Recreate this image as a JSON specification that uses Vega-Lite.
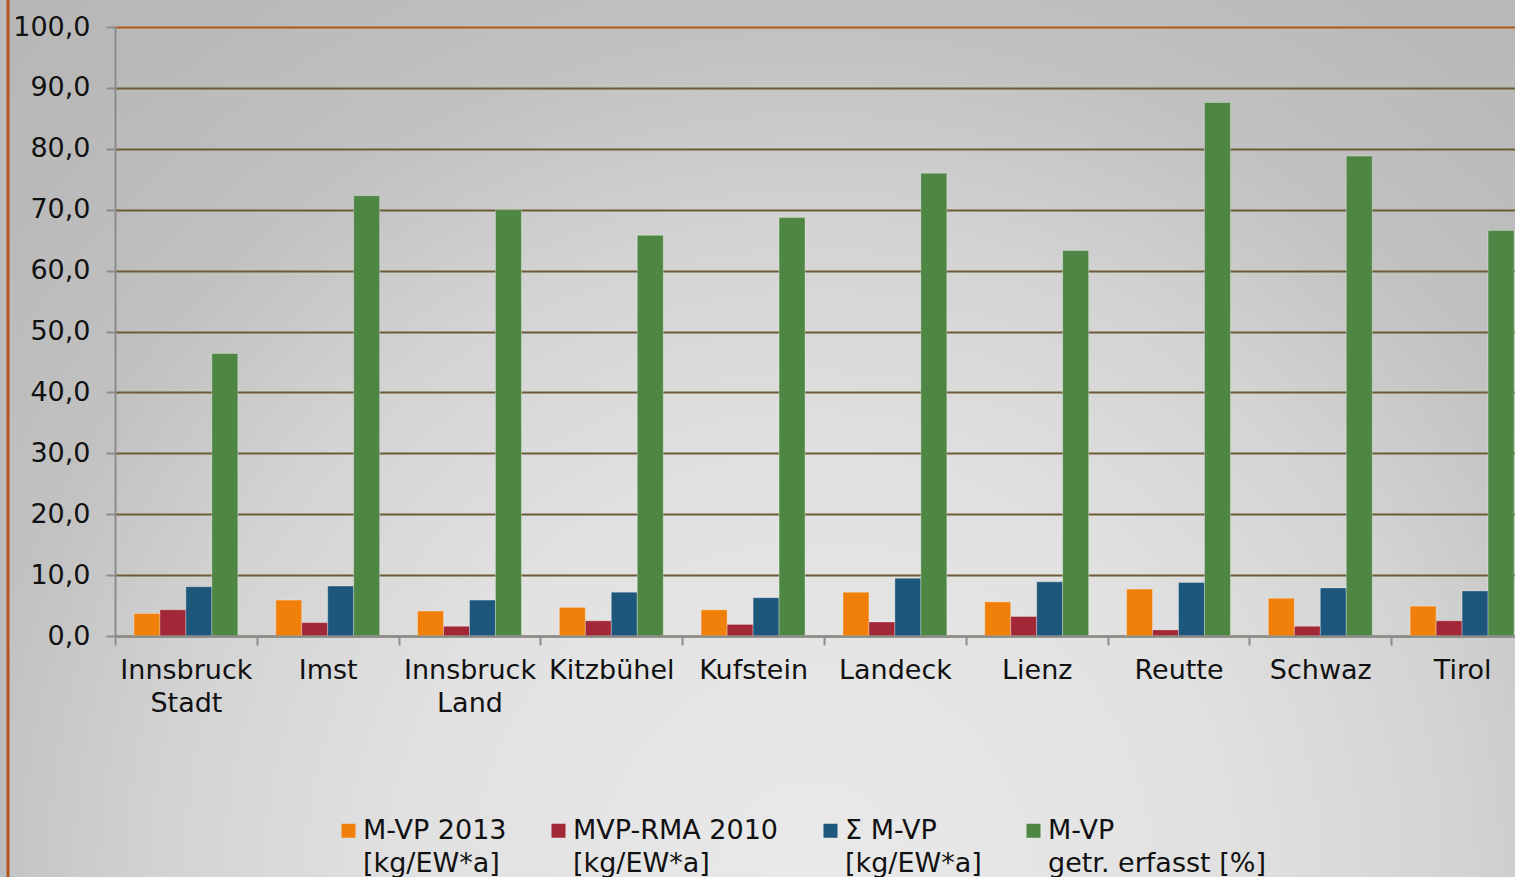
{
  "$schema": "https://vega.github.io/schema/vega-lite/v6.json",
  "width": 1520,
  "height": 883,
  "autosize": {"type": "none"},
  "padding": {"left": 8, "top": -3, "right": -13, "bottom": -3},
  "background": "#bcbcbc",
  "config": {
    "font": "DejaVu Sans",
    "view": {
      "fill": {
        "gradient": "radial",
        "x1": 0.53, "y1": 0.79, "r1": 0,
        "x2": 0.53, "y2": 0.79, "r2": 0.9,
        "stops": [
          {"offset": 0, "color": "#e9e9e9"},
          {"offset": 0.3, "color": "#e1e1e1"},
          {"offset": 0.475, "color": "#d3d3d3"},
          {"offset": 0.57, "color": "#c7c7c7"},
          {"offset": 0.62, "color": "#c1c1c1"},
          {"offset": 0.75, "color": "#bababa"},
          {"offset": 1, "color": "#b3b3b3"}
        ]
      },
      "stroke": "#ad5718",
      "strokeWidth": 3
    },
    "style": {"guide-label": {"lineHeight": 33}}
  },
  "data": {
    "values": [
      {"bezirk": "Innsbruck Stadt", "serie": "M-VP 2013|[kg/EW*a]", "wert": 3.7},
      {"bezirk": "Innsbruck Stadt", "serie": "MVP-RMA 2010|[kg/EW*a]", "wert": 4.3},
      {"bezirk": "Innsbruck Stadt", "serie": "Σ M-VP|[kg/EW*a]", "wert": 8.1},
      {"bezirk": "Innsbruck Stadt", "serie": "M-VP|getr. erfasst [%]", "wert": 46.4},
      {"bezirk": "Imst", "serie": "M-VP 2013|[kg/EW*a]", "wert": 5.9},
      {"bezirk": "Imst", "serie": "MVP-RMA 2010|[kg/EW*a]", "wert": 2.2},
      {"bezirk": "Imst", "serie": "Σ M-VP|[kg/EW*a]", "wert": 8.2},
      {"bezirk": "Imst", "serie": "M-VP|getr. erfasst [%]", "wert": 72.3},
      {"bezirk": "Innsbruck Land", "serie": "M-VP 2013|[kg/EW*a]", "wert": 4.1},
      {"bezirk": "Innsbruck Land", "serie": "MVP-RMA 2010|[kg/EW*a]", "wert": 1.6},
      {"bezirk": "Innsbruck Land", "serie": "Σ M-VP|[kg/EW*a]", "wert": 5.9},
      {"bezirk": "Innsbruck Land", "serie": "M-VP|getr. erfasst [%]", "wert": 70.0},
      {"bezirk": "Kitzbühel", "serie": "M-VP 2013|[kg/EW*a]", "wert": 4.7},
      {"bezirk": "Kitzbühel", "serie": "MVP-RMA 2010|[kg/EW*a]", "wert": 2.5},
      {"bezirk": "Kitzbühel", "serie": "Σ M-VP|[kg/EW*a]", "wert": 7.2},
      {"bezirk": "Kitzbühel", "serie": "M-VP|getr. erfasst [%]", "wert": 65.8},
      {"bezirk": "Kufstein", "serie": "M-VP 2013|[kg/EW*a]", "wert": 4.3},
      {"bezirk": "Kufstein", "serie": "MVP-RMA 2010|[kg/EW*a]", "wert": 1.9},
      {"bezirk": "Kufstein", "serie": "Σ M-VP|[kg/EW*a]", "wert": 6.3},
      {"bezirk": "Kufstein", "serie": "M-VP|getr. erfasst [%]", "wert": 68.7},
      {"bezirk": "Landeck", "serie": "M-VP 2013|[kg/EW*a]", "wert": 7.2},
      {"bezirk": "Landeck", "serie": "MVP-RMA 2010|[kg/EW*a]", "wert": 2.3},
      {"bezirk": "Landeck", "serie": "Σ M-VP|[kg/EW*a]", "wert": 9.5},
      {"bezirk": "Landeck", "serie": "M-VP|getr. erfasst [%]", "wert": 76.0},
      {"bezirk": "Lienz", "serie": "M-VP 2013|[kg/EW*a]", "wert": 5.6},
      {"bezirk": "Lienz", "serie": "MVP-RMA 2010|[kg/EW*a]", "wert": 3.2},
      {"bezirk": "Lienz", "serie": "Σ M-VP|[kg/EW*a]", "wert": 8.9},
      {"bezirk": "Lienz", "serie": "M-VP|getr. erfasst [%]", "wert": 63.3},
      {"bezirk": "Reutte", "serie": "M-VP 2013|[kg/EW*a]", "wert": 7.7},
      {"bezirk": "Reutte", "serie": "MVP-RMA 2010|[kg/EW*a]", "wert": 1.0},
      {"bezirk": "Reutte", "serie": "Σ M-VP|[kg/EW*a]", "wert": 8.8},
      {"bezirk": "Reutte", "serie": "M-VP|getr. erfasst [%]", "wert": 87.6},
      {"bezirk": "Schwaz", "serie": "M-VP 2013|[kg/EW*a]", "wert": 6.2},
      {"bezirk": "Schwaz", "serie": "MVP-RMA 2010|[kg/EW*a]", "wert": 1.6},
      {"bezirk": "Schwaz", "serie": "Σ M-VP|[kg/EW*a]", "wert": 7.9},
      {"bezirk": "Schwaz", "serie": "M-VP|getr. erfasst [%]", "wert": 78.8},
      {"bezirk": "Tirol", "serie": "M-VP 2013|[kg/EW*a]", "wert": 4.9},
      {"bezirk": "Tirol", "serie": "MVP-RMA 2010|[kg/EW*a]", "wert": 2.5},
      {"bezirk": "Tirol", "serie": "Σ M-VP|[kg/EW*a]", "wert": 7.4},
      {"bezirk": "Tirol", "serie": "M-VP|getr. erfasst [%]", "wert": 66.6}
    ]
  },
  "mark": {"type": "bar", "stroke": "#ffffff", "strokeOpacity": 0.3, "strokeWidth": 1},
  "encoding": {
    "x": {
      "field": "bezirk",
      "type": "nominal",
      "sort": ["Innsbruck Stadt", "Imst", "Innsbruck Land", "Kitzbühel", "Kufstein", "Landeck", "Lienz", "Reutte", "Schwaz", "Tirol"],
      "scale": {"type": "band", "paddingInner": 0, "paddingOuter": 0, "range": [107, 1525]},
      "axis": {
        "orient": "bottom",
        "offset": -244,
        "title": null,
        "grid": false,
        "domainColor": "#8c8c8c",
        "domainWidth": 2,
        "tickColor": "#8c8c8c",
        "tickWidth": 2,
        "tickSize": 9,
        "tickBand": "extent",
        "labelFont": "DejaVu Sans",
        "labelFontSize": 27,
        "labelColor": "#111111",
        "labelPadding": 12,
        "labelLineHeight": 33,
        "labelExpr": "split(datum.label, ' ')",
        "labelAngle": 0,
        "labelOverlap": false,
        "labelLimit": 300,
        "zindex": 1
      }
    },
    "xOffset": {
      "field": "serie",
      "sort": ["M-VP 2013|[kg/EW*a]", "MVP-RMA 2010|[kg/EW*a]", "Σ M-VP|[kg/EW*a]", "M-VP|getr. erfasst [%]"],
      "scale": {"paddingInner": 0, "paddingOuter": 0.73}
    },
    "y": {
      "field": "wert",
      "type": "quantitative",
      "scale": {"domain": [0, 100], "range": [639, 30], "nice": false, "zero": true},
      "axis": {
        "orient": "left",
        "offset": -107,
        "title": null,
        "values": [0, 10, 20, 30, 40, 50, 60, 70, 80, 90, 100],
        "labelExpr": "replace(format(datum.value, '.1f'), '.', ',')",
        "domainColor": "#8c8c8c",
        "domainWidth": 2,
        "tickColor": "#8c8c8c",
        "tickWidth": 2,
        "tickSize": 9,
        "labelFont": "DejaVu Sans",
        "labelFontSize": 27,
        "labelColor": "#111111",
        "labelPadding": 16,
        "grid": true,
        "gridColor": {"condition": {"test": "datum.value >= 100", "value": "#b0581a"}, "value": "#6e5a36"},
        "gridWidth": 2
      }
    },
    "color": {
      "field": "serie",
      "type": "nominal",
      "sort": ["M-VP 2013|[kg/EW*a]", "MVP-RMA 2010|[kg/EW*a]", "Σ M-VP|[kg/EW*a]", "M-VP|getr. erfasst [%]"],
      "scale": {
        "domain": ["M-VP 2013|[kg/EW*a]", "MVP-RMA 2010|[kg/EW*a]", "Σ M-VP|[kg/EW*a]", "M-VP|getr. erfasst [%]"],
        "range": ["#f0800a", "#a22837", "#1d577b", "#4e8743"]
      },
      "legend": {
        "orient": "none",
        "legendX": 327,
        "legendY": 820,
        "direction": "horizontal",
        "columns": 4,
        "title": null,
        "padding": 0,
        "symbolType": "square",
        "symbolSize": 196,
        "symbolStrokeWidth": 0,
        "symbolOpacity": 1,
        "labelFont": "DejaVu Sans",
        "labelFontSize": 27,
        "labelColor": "#111111",
        "labelBaseline": "middle",
        "labelOffset": 1,
        "columnPadding": 38,
        "labelLimit": 400,
        "labelExpr": "split(datum.label, '|')"
      }
    }
  }
}
